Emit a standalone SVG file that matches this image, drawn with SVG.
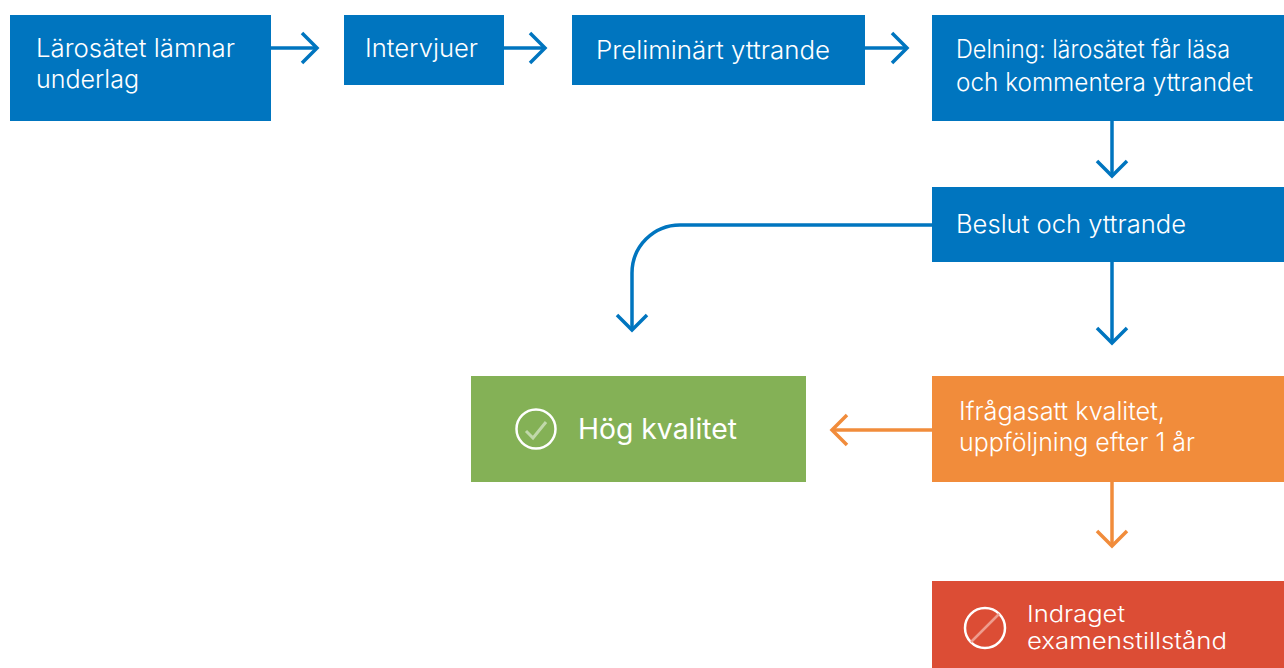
<svg xmlns="http://www.w3.org/2000/svg" width="1284" height="668" viewBox="0 0 1284 668">
<defs><style>
text{font-family:"Inter","Liberation Sans",sans-serif;font-size:25px;fill:#fff;font-weight:300}
.tight{font-size:23px}
.c{fill:none;stroke-width:3.5}
.b{stroke:#0075bf}.o{stroke:#f18c3b}
</style>
<marker id="ab" markerUnits="userSpaceOnUse" markerWidth="34" markerHeight="34" refX="30" refY="17" orient="auto"><path d="M15 2L30 17L15 32" fill="none" stroke="#0075bf" stroke-width="3.5"/></marker>
<marker id="ao" markerUnits="userSpaceOnUse" markerWidth="34" markerHeight="34" refX="30" refY="17" orient="auto"><path d="M15 2L30 17L15 32" fill="none" stroke="#f18c3b" stroke-width="3.5"/></marker>
</defs>
<rect width="1284" height="668" fill="#fff"/>
<g id="connectors">
<path class="c b" d="M271 48H317" marker-end="url(#ab)"/>
<path class="c b" d="M504 48H545" marker-end="url(#ab)"/>
<path class="c b" d="M865 48H907" marker-end="url(#ab)"/>
<path class="c b" d="M1112 121V176" marker-end="url(#ab)"/>
<path class="c b" d="M1112 262V343" marker-end="url(#ab)"/>
<path class="c b" d="M932 225H680A48 48 0 0 0 632 273V330" marker-end="url(#ab)"/>
<path class="c o" d="M932 430H832" marker-end="url(#ao)"/>
<path class="c o" d="M1112 482V546" marker-end="url(#ao)"/>
</g>
<g id="n1"><rect x="10" y="15" width="261" height="106" fill="#0075bf"/><text x="36" y="57" textLength="199" lengthAdjust="spacingAndGlyphs">Lärosätet lämnar</text><text x="36" y="88" textLength="103" lengthAdjust="spacingAndGlyphs">underlag</text></g>
<g id="n2"><rect x="344" y="15" width="160" height="70" fill="#0075bf"/><text x="365" y="57" textLength="113" lengthAdjust="spacingAndGlyphs">Intervjuer</text></g>
<g id="n3"><rect x="572" y="15" width="293" height="70" fill="#0075bf"/><text x="596" y="59" textLength="234" lengthAdjust="spacingAndGlyphs">Preliminärt yttrande</text></g>
<g id="n4"><rect x="932" y="15" width="352" height="106" fill="#0075bf"/><text x="956" y="58" textLength="274" lengthAdjust="spacingAndGlyphs">Delning: lärosätet får läsa</text><text x="956" y="91" textLength="297" lengthAdjust="spacingAndGlyphs">och kommentera yttrandet</text></g>
<g id="n5"><rect x="932" y="187" width="352" height="75" fill="#0075bf"/><text x="956" y="233" textLength="230" lengthAdjust="spacingAndGlyphs">Beslut och yttrande</text></g>
<g id="n6"><rect x="471" y="376" width="335" height="106" fill="#84b156"/><circle cx="536" cy="429" r="19.5" fill="none" stroke="#fff" stroke-width="2.5"/><path d="M526 431L533 438L546 422" fill="none" stroke="#c1d8aa" stroke-width="3"/><text x="578" y="439" textLength="159" lengthAdjust="spacingAndGlyphs" style="font-size:28px;font-weight:400">Hög kvalitet</text></g>
<g id="n7"><rect x="932" y="376" width="352" height="106" fill="#f18c3b"/><text x="959" y="420" textLength="206" lengthAdjust="spacingAndGlyphs">Ifrågasatt kvalitet,</text><text x="959" y="451" textLength="236" lengthAdjust="spacingAndGlyphs">uppföljning efter 1 år</text></g>
<g id="n8"><rect x="932" y="581" width="352" height="87" fill="#dc4d35"/><circle cx="985" cy="628" r="20" fill="none" stroke="#fff" stroke-width="2.5"/><path d="M971 642L999 614" fill="none" stroke="#ee9d8e" stroke-width="2.5"/><text class="tight" x="1027" y="622" textLength="98" lengthAdjust="spacingAndGlyphs">Indraget</text><text class="tight" x="1027" y="649" textLength="200" lengthAdjust="spacingAndGlyphs">examenstillstånd</text></g>
</svg>
